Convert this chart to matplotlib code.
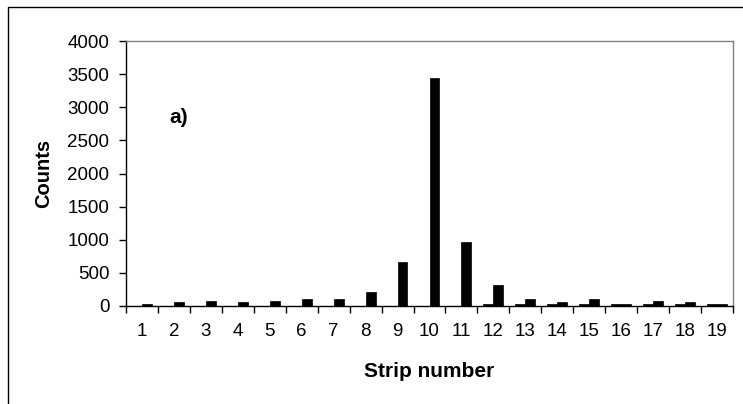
import matplotlib
matplotlib.use("Agg")
import matplotlib.pyplot as plt
from matplotlib.patches import Rectangle
import numpy as np

strips = list(range(1, 20))
counts_a = [0, 0, 0, 0, 0, 0, 0, 0, 0, 0, 0, 30, 30, 30, 30, 30, 30, 30, 30]
counts_b = [30, 55, 75, 55, 75, 100, 100, 215, 670, 3435, 970, 315, 100, 55, 100, 30, 75, 55, 30]
y_ticks = [0, 500, 1000, 1500, 2000, 2500, 3000, 3500, 4000]

plt.rcParams["font.family"] = ["Liberation Sans", "DejaVu Sans"]

fig = plt.figure(figsize=(7.43, 4.04), dpi=100)
ax = fig.add_axes([126 / 743, 1 - 306 / 404, 607 / 743, 265 / 404])

# outer chart frame (only top/left visible in the crop)
fig.patches.append(Rectangle((8 / 743, -0.1), 1.2, 1.1 - 7 / 404,
                             transform=fig.transFigure, fill=False,
                             edgecolor="black", linewidth=1.0))

x = np.array(strips)
w = 0.31
ax.bar(x - w / 2, counts_a, width=w, color="black", edgecolor="black", linewidth=0.5)
ax.bar(x + w / 2, counts_b, width=w, color="black", edgecolor="black", linewidth=0.5)

ax.set_xlim(0.5, 19.5)
ax.set_ylim(0, 4000)
ax.set_yticks(y_ticks)
ax.set_xticks(strips)
ax.set_xticklabels([str(s) for s in strips])
ax.set_xticks(np.arange(0.5, 20.0, 1.0), minor=True)
ax.tick_params(axis="x", which="major", length=0, labelsize=13.5, pad=12)
ax.tick_params(axis="x", which="minor", length=5, width=1, direction="out")
ax.tick_params(axis="y", length=5, width=1, direction="out", labelsize=13.5, pad=7)

for side in ("top", "right"):
    ax.spines[side].set_color("#808080")
for side in ("left", "bottom"):
    ax.spines[side].set_color("black")
for sp in ax.spines.values():
    sp.set_linewidth(1.0)

ax.set_xlabel("Strip number", fontsize=15, fontweight="bold", labelpad=16)
ax.set_ylabel("Counts", fontsize=14.5, fontweight="bold", labelpad=10)
ax.text(0.072, 0.71, "a)", transform=ax.transAxes, fontsize=15, fontweight="bold",
        va="center", ha="left")

fig.savefig("out.png", dpi=100)
plt.close(fig)
